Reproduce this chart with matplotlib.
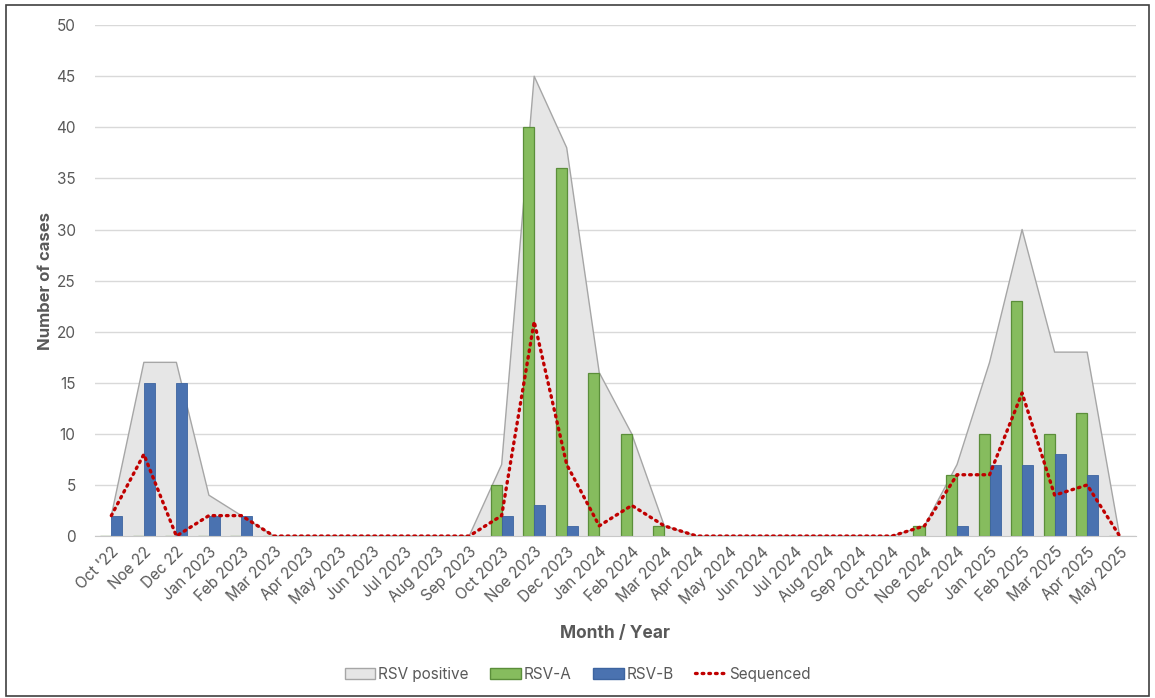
import matplotlib
matplotlib.use("Agg")
import matplotlib.pyplot as plt
from matplotlib.patches import Patch, Rectangle
from matplotlib.lines import Line2D
import numpy as np

plt.rcParams['font.family'] = ['Inter', 'DejaVu Sans']

months = ["Oct '22", "Noe 22", "Dec 22", "Jan 2023", "Feb 2023", "Mar 2023", "Apr 2023",
          "May 2023", "Jun 2023", "Jul 2023", "Aug 2023", "Sep 2023", "Oct 2023", "Noe 2023",
          "Dec 2023", "Jan 2024", "Feb 2024", "Mar 2024", "Apr 2024", "May 2024", "Jun 2024",
          "Jul 2024", "Aug 2024", "Sep 2024", "Oct 2024", "Noe 2024", "Dec 2024", "Jan 2025",
          "Feb 2025", "Mar 2025", "Apr 2025", "May 2025"]
rsv_positive = [2, 17, 17, 4, 2, 0, 0, 0, 0, 0, 0, 0, 7, 45, 38, 16, 10, 1, 0, 0, 0, 0, 0, 0, 0,
                1, 7, 17, 30, 18, 18, 0]
rsv_a = [0, 0, 0, 0, 0, 0, 0, 0, 0, 0, 0, 0, 5, 40, 36, 16, 10, 1, 0, 0, 0, 0, 0, 0, 0,
         1, 6, 10, 23, 10, 12, 0]
rsv_b = [2, 15, 15, 2, 2, 0, 0, 0, 0, 0, 0, 0, 2, 3, 1, 0, 0, 0, 0, 0, 0, 0, 0, 0, 0,
         0, 1, 7, 7, 8, 6, 0]
sequenced = [2, 8, 0, 2, 2, 0, 0, 0, 0, 0, 0, 0, 2, 21, 7, 1, 3, 1, 0, 0, 0, 0, 0, 0, 0,
             1, 6, 6, 14, 4, 5, 0]

grey_txt = '#595959'
c_area = '#e6e6e6'
c_area_edge = '#a6a6a6'
c_a = '#86bc5e'
c_a_edge = '#5b8e3a'
c_b = '#4a72b0'
c_b_edge = '#3d64a0'
c_seq = '#c00000'
dot_style = (0, (0.5, 1.5))

fig = plt.figure(figsize=(11.55, 6.98), dpi=100)
ax = fig.add_axes([0.0823, 0.232, 0.9012, 0.732])

x = np.arange(len(months))
ax.fill_between(x, rsv_positive, 0, facecolor=c_area, edgecolor='none', zorder=1)
ax.plot(x, rsv_positive, color=c_area_edge, lw=1.0, zorder=1.5)

w = 0.34
ax.bar(x - w / 2, rsv_a, width=w, color=c_a, edgecolor=c_a_edge, linewidth=0.9, zorder=2)
ax.bar(x + w / 2, rsv_b, width=w, color=c_b, edgecolor=c_b_edge, linewidth=0.6, zorder=2)
ax.plot(x, sequenced, color=c_seq, lw=2.4, linestyle=dot_style,
        dash_capstyle='round', zorder=3)

ax.set_xlim(-0.5, len(months) - 0.5)
ax.set_ylim(0, 50)
ax.set_yticks(range(0, 51, 5))
ax.grid(axis='y', color='#d9d9d9', lw=1)
ax.set_axisbelow(True)
for s in ['top', 'right', 'left']:
    ax.spines[s].set_visible(False)
ax.spines['bottom'].set_color('#c8c8c8')
ax.tick_params(axis='both', length=0, colors=grey_txt, labelsize=11)
ax.tick_params(axis='y', pad=14)
ax.set_xticks(x)
ax.set_xticklabels(months, rotation=45, ha='right', rotation_mode='anchor')
ax.tick_params(axis='x', pad=6)

ax.set_ylabel('Number of cases', fontsize=12, fontweight='bold', color=grey_txt, labelpad=2)
ax.set_xlabel('Month / Year', fontsize=12.5, fontweight='bold', color=grey_txt, labelpad=13)

handles = [Patch(facecolor=c_area, edgecolor=c_area_edge, label='RSV positive'),
           Patch(facecolor=c_a, edgecolor=c_a_edge, label='RSV-A'),
           Patch(facecolor=c_b, edgecolor=c_b_edge, label='RSV-B'),
           Line2D([0], [0], color=c_seq, lw=2.4, linestyle=dot_style,
                  dash_capstyle='round', label='Sequenced')]
leg = fig.legend(handles=handles, loc='center', bbox_to_anchor=(0.5, 0.034), ncol=4,
                 frameon=False, fontsize=11, handlelength=2.0, handleheight=0.8,
                 handletextpad=0.2, columnspacing=1.4)
for t in leg.get_texts():
    t.set_color(grey_txt)

fig.patches.append(Rectangle((0.005, 0.003), 0.99, 0.99, transform=fig.transFigure,
                             fill=False, edgecolor='#404040', lw=1.2))

fig.savefig('out.png', dpi=100)
